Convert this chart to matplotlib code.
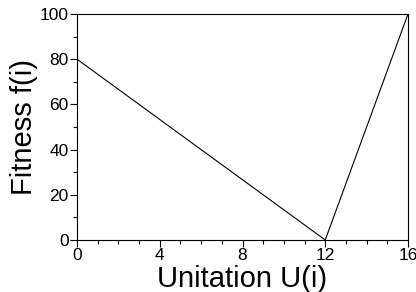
import matplotlib
matplotlib.use("Agg")
import matplotlib.pyplot as plt
from matplotlib.ticker import MultipleLocator

plt.rcParams['font.family'] = ['Liberation Sans', 'DejaVu Sans']

# data
unitation = [0, 12, 16]
fitness = [80, 0, 100]

fig = plt.figure(figsize=(4.16, 2.92), dpi=100)
ax = fig.add_axes([77/416, 1-240/292, (408-77)/416, (240-14)/292])

ax.plot(unitation, fitness, color="black", linewidth=0.8)

ax.set_xlim(0, 16)
ax.set_ylim(0, 100)
ax.xaxis.set_major_locator(MultipleLocator(4))
ax.xaxis.set_minor_locator(MultipleLocator(1))
ax.yaxis.set_major_locator(MultipleLocator(20))
ax.yaxis.set_minor_locator(MultipleLocator(10))
ax.tick_params(which="major", direction="out", length=5, width=0.8, labelsize=12.5, pad=1)
ax.tick_params(which="minor", direction="out", length=3, width=0.8)
for s in ax.spines.values():
    s.set_linewidth(0.8)

ax.set_xlabel("Unitation U(i)", fontsize=21, labelpad=1)
ax.set_ylabel("Fitness f(i)", fontsize=21, labelpad=1)

fig.savefig("out.png", dpi=100)
